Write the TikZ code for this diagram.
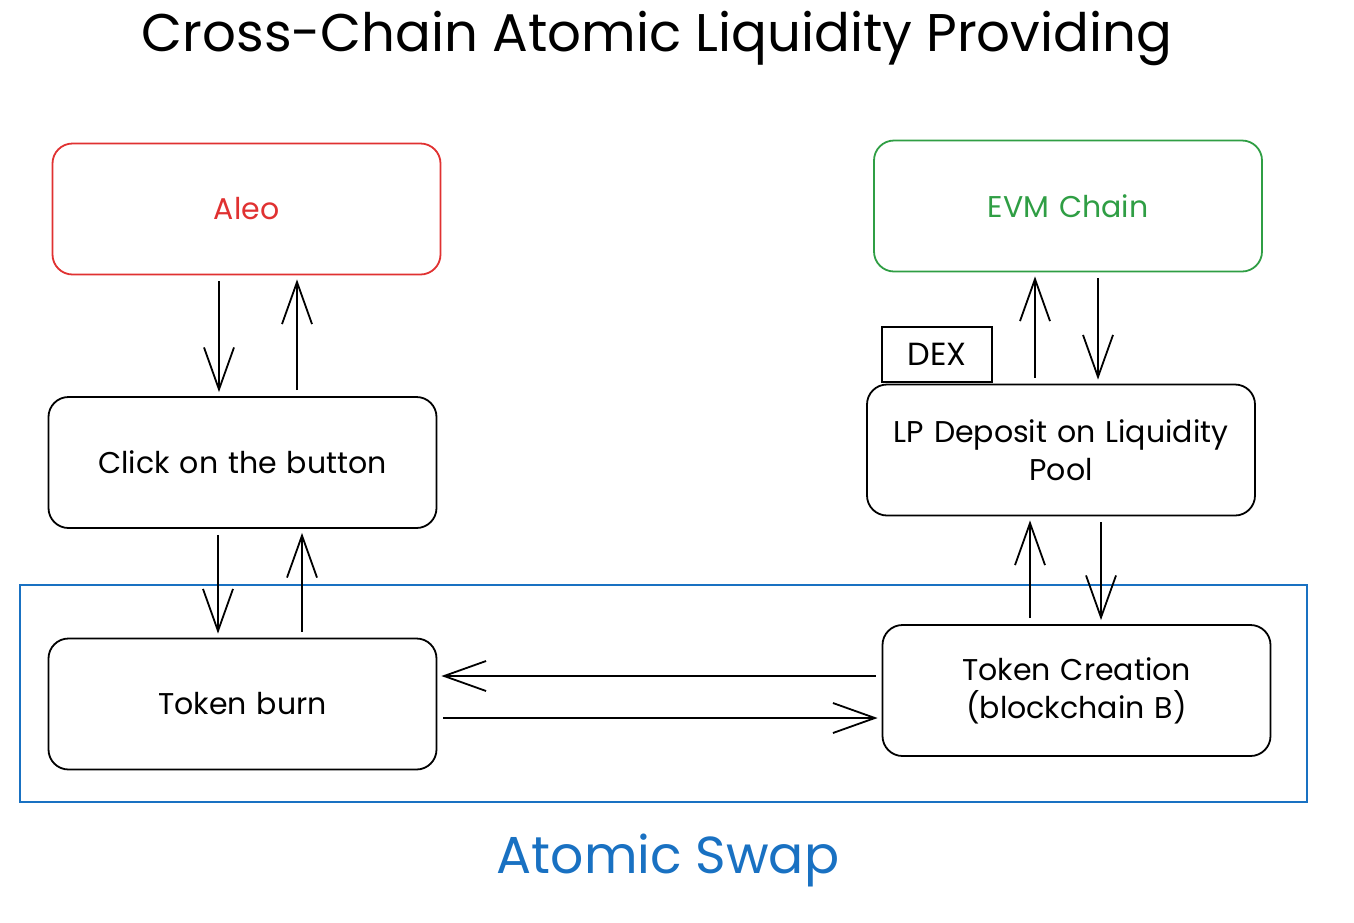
\documentclass[tikz,border=0pt]{standalone}
\usepackage{fontspec}
\setmainfont{Poppins}
\usepackage{xcolor}
\definecolor{vermelho}{RGB}{224,49,49}
\definecolor{verde}{RGB}{47,158,68}
\definecolor{azul}{RGB}{25,113,194}
\usepackage{tikz}
\usetikzlibrary{arrows.meta, positioning, calc}

\begin{document}
\begin{tikzpicture}[
    x=0.5pt, y=-0.5pt,
    box/.style={rectangle, rounded corners=10pt, draw=black, line width=0.9pt,
                minimum width=194pt, minimum height=65.5pt,
                font=\fontsize{15}{19}\selectfont, text centered,
                text width=190pt, inner sep=1pt},
    tag/.style={rectangle, draw=black, line width=0.9pt,
                minimum width=55pt, minimum height=27.5pt,
                font=\fontsize{16}{18}\selectfont},
    frame/.style={rectangle, draw=azul, line width=0.8pt,
                  minimum width=643.5pt, minimum height=108.5pt},
    arr/.style={-{Straight Barb[length=21pt, width=15pt, line width=0.9pt]},
                line width=0.9pt, shorten <=3pt, shorten >=2pt},
    ttl/.style={font=\fontsize{26.5}{30}\selectfont}
  ]

  \useasboundingbox (0,0) rectangle (1354,922);

  \node[ttl] (title) at (657, 38) {Cross-Chain Atomic Liquidity Providing};

  \node[frame] (swap) at (663.5, 693.5) {};
  \node[ttl, font=\fontsize{26}{30}\selectfont, text=azul] (swaplbl) at (668, 860) {Atomic Swap};

  \node[box, draw=vermelho, text=vermelho] (aleo) at (246.5, 209) {Aleo};
  \node[box, draw=verde, text=verde]       (evm)  at (1068, 206)  {EVM Chain};

  \node[box] (click) at (242.5, 462.5) {Click on the button};
  \node[box] (lp)    at (1061, 450)    {LP Deposit on Liquidity\\Pool};
  \node[tag] (dex)   at (937, 354.5)   {DEX};

  \node[box] (burn)  at (242.5, 704)   {Token burn};
  \node[box] (make)  at (1076.5, 690.5) {Token Creation\\(blockchain B)};

  % left column
  \draw[arr] ([xshift=-13.75pt]aleo.south) -- ([xshift=-13.75pt]aleo.south |- click.north);
  \draw[arr] ([xshift=27.25pt]click.north) -- ([xshift=27.25pt]click.north |- aleo.south);
  \draw[arr] ([xshift=-12.25pt]click.south) -- ([xshift=-12.25pt]click.south |- burn.north);
  \draw[arr] ([xshift=29.75pt]burn.north) -- ([xshift=29.75pt]burn.north |- click.south);

  % right column
  \draw[arr] ([xshift=15pt]evm.south) -- ([xshift=15pt]evm.south |- lp.north);
  \draw[arr] ([xshift=-13pt]lp.north) -- ([xshift=-13pt]lp.north |- evm.south);
  \draw[arr] ([xshift=20pt]lp.south) -- ([xshift=20pt]lp.south |- make.north);
  \draw[arr] ([xshift=-23.25pt]make.north) -- ([xshift=-23.25pt]make.north |- lp.south);

  % swap
  \draw[arr] ([yshift=7.25pt]make.west) -- ([yshift=7.25pt]make.west -| burn.east);
  \draw[arr] ([yshift=-7pt]burn.east) -- ([yshift=-7pt]burn.east -| make.west);

\end{tikzpicture}
\end{document}
